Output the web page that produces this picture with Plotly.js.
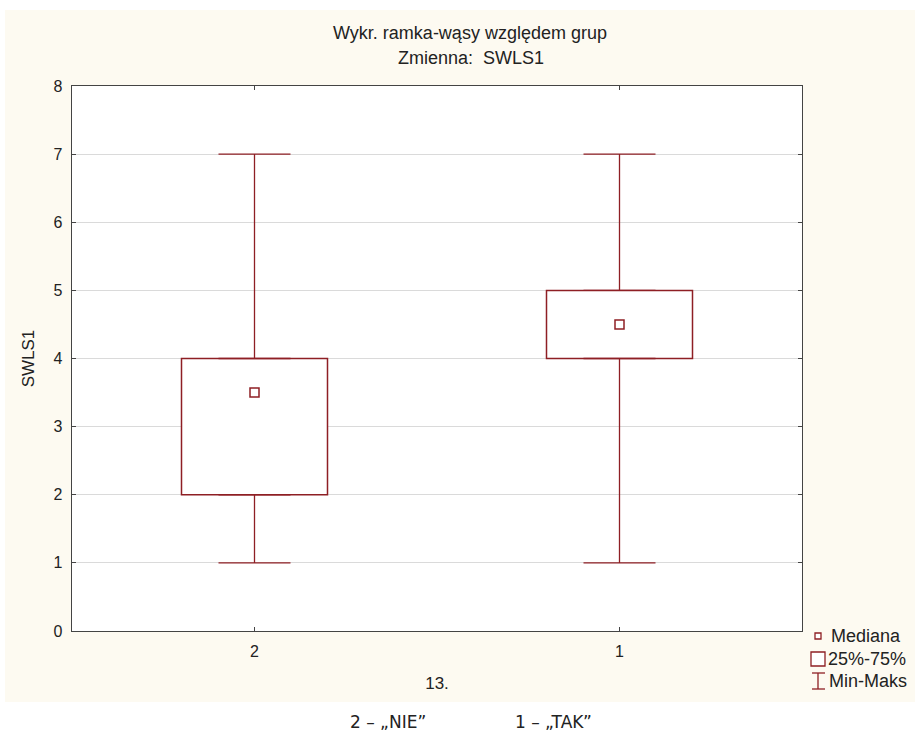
<!DOCTYPE html>
<html>
<head>
<meta charset="utf-8">
<script src="https://cdn.plot.ly/plotly-3.0.1.min.js"></script>
<style>html,body{margin:0;padding:0;background:#fff;}</style>
</head>
<body>
<div id="chart" style="width:915px;height:732px;"></div>
<script>
// ---- data ----
const categories = ['2', '1'];
const minVals    = [1, 1];
const q1Vals     = [2, 4];
const medianVals = [3.5, 4.5];
const q3Vals     = [4, 5];
const maxVals    = [7, 7];
const yTicks     = [0, 1, 2, 3, 4, 5, 6, 7, 8];
const legendLabels = ['Mediana', '25%-75%', 'Min-Maks'];

// ---- layout geometry helpers (pixel -> paper) ----
const W = 915, H = 732, ML = 72, MR = 113, MT = 86, MB = 101;
const PW = W - ML - MR, PH = H - MT - MB;
const px = x => (x - ML) / PW;
const py = y => (H - MB - y) / PH;

const red = '#8e1f24';
const zeros = categories.map(() => 0);

const traces = [
  { // box 25%-75%
    type: 'bar', x: categories, base: q1Vals,
    y: q3Vals.map((v, i) => v - q1Vals[i]),
    width: 0.4,
    marker: { color: '#ffffff', line: { color: red, width: 1.5 } },
    showlegend: false, hoverinfo: 'skip'
  },
  { // upper whisker
    type: 'scatter', mode: 'markers', x: categories, y: maxVals,
    marker: { opacity: 0, size: 1 },
    error_y: { type: 'data', symmetric: false, array: zeros,
      arrayminus: maxVals.map((v, i) => v - q3Vals[i]),
      width: 36, thickness: 1.3, color: red },
    showlegend: false, hoverinfo: 'skip'
  },
  { // lower whisker
    type: 'scatter', mode: 'markers', x: categories, y: minVals,
    marker: { opacity: 0, size: 1 },
    error_y: { type: 'data', symmetric: false,
      array: q1Vals.map((v, i) => v - minVals[i]), arrayminus: zeros,
      width: 36, thickness: 1.3, color: red },
    showlegend: false, hoverinfo: 'skip'
  },
  { // median
    type: 'scatter', mode: 'markers', x: categories, y: medianVals,
    marker: { symbol: 'square-open', size: 9, color: red, line: { width: 1.5, color: red } },
    showlegend: false
  }
];

const shapes = [
  { type: 'rect', xref: 'paper', yref: 'paper', layer: 'below',
    x0: px(5), x1: px(915), y0: py(702), y1: py(10),
    fillcolor: '#fdfaf1', line: { width: 0 } },
  { type: 'rect', xref: 'paper', yref: 'paper', layer: 'below',
    x0: 0, x1: 1, y0: 0, y1: 1, fillcolor: '#ffffff', line: { width: 0 } },
  // legend icons
  { type: 'rect', xref: 'paper', yref: 'paper', x0: px(815), x1: px(821), y0: py(639), y1: py(633),
    line: { color: red, width: 1.3 }, fillcolor: '#ffffff' },
  { type: 'rect', xref: 'paper', yref: 'paper', x0: px(811), x1: px(825), y0: py(666), y1: py(652),
    line: { color: red, width: 1.3 }, fillcolor: '#ffffff' },
  { type: 'line', xref: 'paper', yref: 'paper', x0: px(818), x1: px(818), y0: py(689), y1: py(673),
    line: { color: red, width: 1.3 } },
  { type: 'line', xref: 'paper', yref: 'paper', x0: px(812), x1: px(825), y0: py(673), y1: py(673),
    line: { color: red, width: 1.3 } },
  { type: 'line', xref: 'paper', yref: 'paper', x0: px(812), x1: px(825), y0: py(689), y1: py(689),
    line: { color: red, width: 1.3 } }
];

const font = 'Arial, "Liberation Sans", sans-serif';
const annotations = [
  { text: 'Zmienna:&nbsp; SWLS1', xref: 'paper', yref: 'paper', x: px(471), y: py(58),
    xanchor: 'center', yanchor: 'middle', showarrow: false, font: { family: font, size: 18, color: '#222' } },
  { text: legendLabels[0], xref: 'paper', yref: 'paper', x: px(829), y: py(636), xanchor: 'left', yanchor: 'middle',
    showarrow: false, font: { family: font, size: 18, color: '#222' } },
  { text: legendLabels[1], xref: 'paper', yref: 'paper', x: px(826), y: py(659), xanchor: 'left', yanchor: 'middle',
    showarrow: false, font: { family: font, size: 18, color: '#222' } },
  { text: legendLabels[2], xref: 'paper', yref: 'paper', x: px(827), y: py(681), xanchor: 'left', yanchor: 'middle',
    showarrow: false, font: { family: font, size: 18, color: '#222' } },
  { text: '2 – „NIE”', xref: 'paper', yref: 'paper', x: px(388), y: py(722), xanchor: 'center', yanchor: 'middle',
    borderpad: 0, showarrow: false, font: { family: 'DejaVu Sans, Verdana, sans-serif', size: 17, color: '#222' } },
  { text: '1 – „TAK”', xref: 'paper', yref: 'paper', x: px(553), y: py(722), xanchor: 'center', yanchor: 'middle',
    borderpad: 0, showarrow: false, font: { family: 'DejaVu Sans, Verdana, sans-serif', size: 17, color: '#222' } }
];

const layout = {
  width: W, height: H,
  margin: { l: ML, r: MR, t: MT, b: MB, pad: 0 },
  paper_bgcolor: '#ffffff', plot_bgcolor: 'rgba(0,0,0,0)',
  font: { family: font, size: 16, color: '#222' },
  title: { text: 'Wykr. ramka-wąsy względem grup', x: px(470), xref: 'paper', xanchor: 'center',
    y: 1 - 33 / H, yref: 'container', yanchor: 'middle', font: { family: font, size: 18, color: '#222' } },
  xaxis: {
    type: 'category', categoryorder: 'array', categoryarray: categories, range: [-0.5, 1.5],
    showline: true, linecolor: '#444', linewidth: 1.3, mirror: 'ticks',
    ticks: 'inside', ticklen: 4, tickcolor: '#444', showgrid: false, zeroline: false,
    ticklabelstandoff: 5,
    tickfont: { family: font, size: 16, color: '#222' },
    title: { text: '13.', font: { family: font, size: 17, color: '#222' }, standoff: 18 }
  },
  yaxis: {
    range: [0, 8], tickvals: yTicks, ticktext: yTicks.map(String),
    showline: true, linecolor: '#444', linewidth: 1.3, mirror: 'ticks',
    ticks: 'inside', ticklen: 4, tickcolor: '#444',
    ticklabelstandoff: 5,
    showgrid: true, gridcolor: '#dadada', gridwidth: 1, zeroline: false,
    tickfont: { family: font, size: 16, color: '#222' },
    title: { text: 'SWLS1', font: { family: font, size: 17, color: '#222' }, standoff: 14 }
  },
  shapes: shapes, annotations: annotations, showlegend: false
};

Plotly.newPlot('chart', traces, layout, { displayModeBar: false, staticPlot: true });
</script>
</body>
</html>
